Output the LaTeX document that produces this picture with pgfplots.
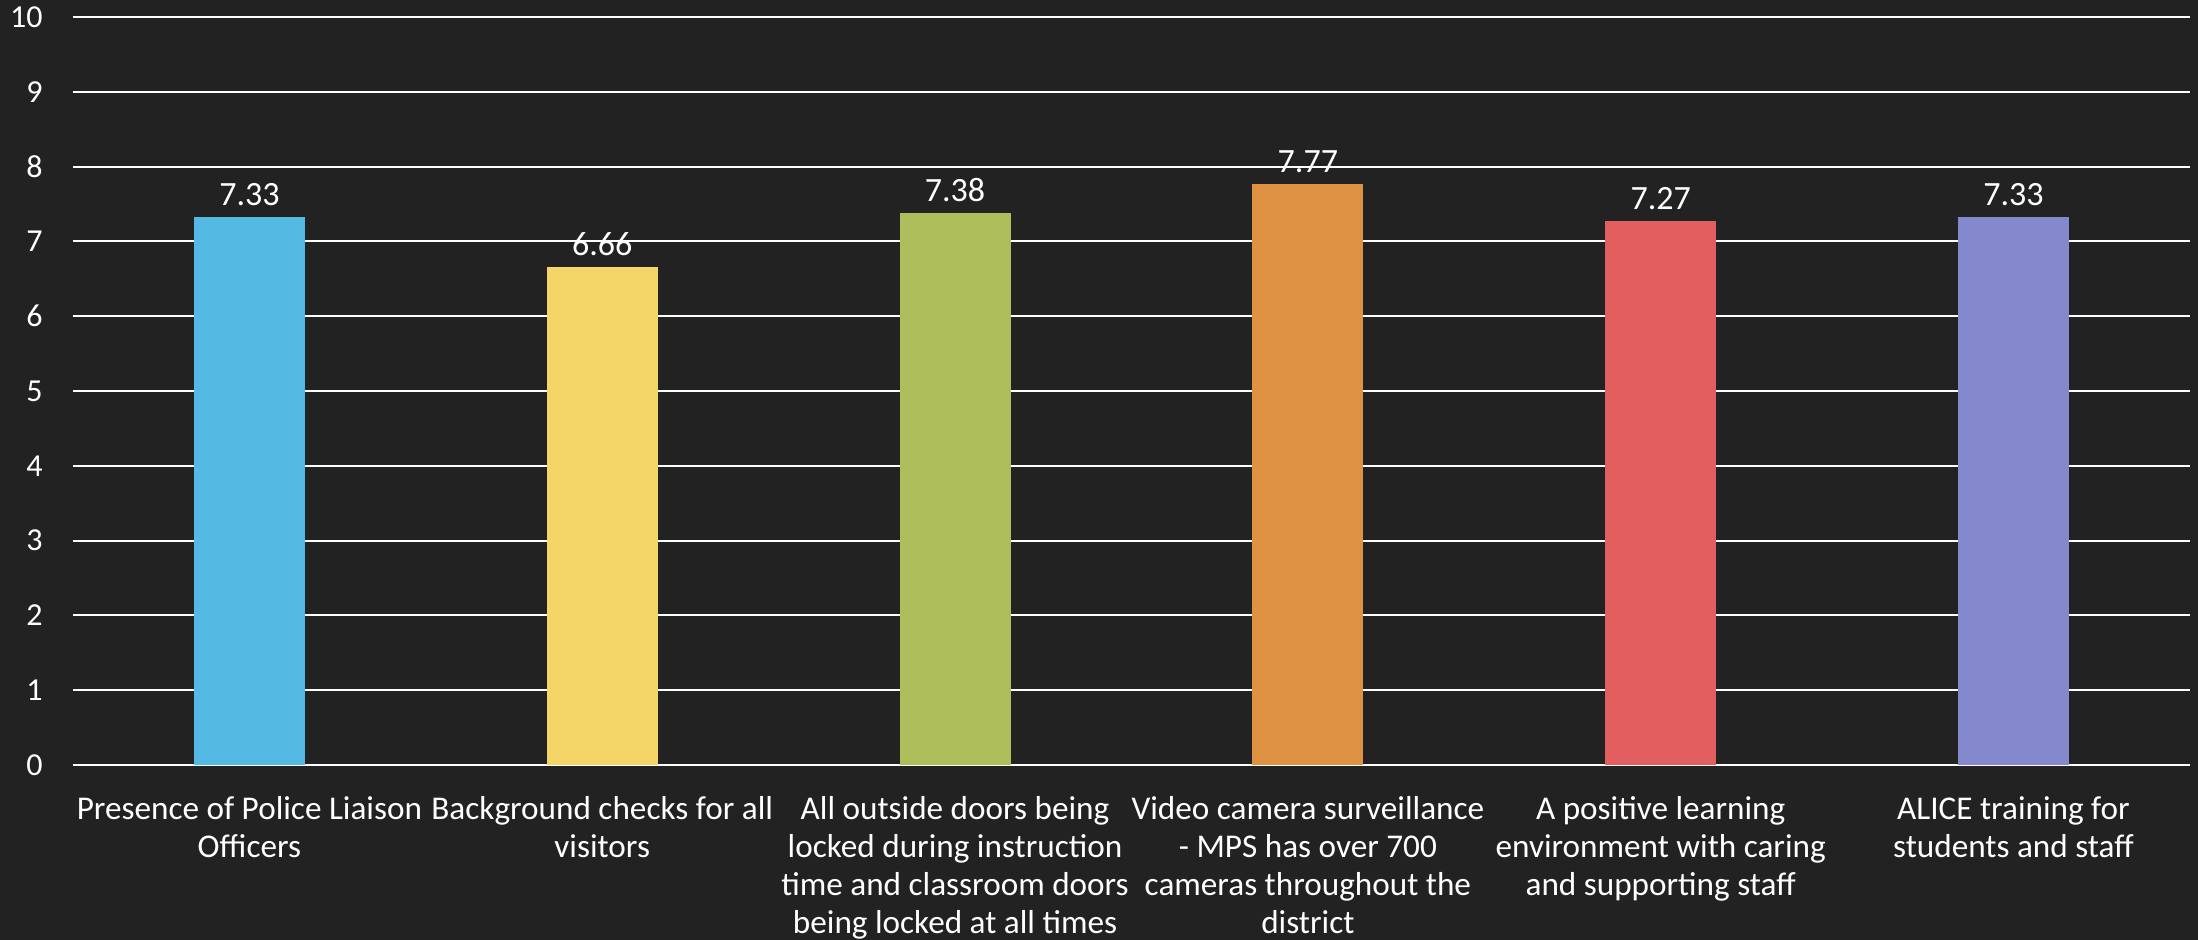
\documentclass[border=0pt]{standalone}
\usepackage{fontspec}
\setmainfont{Carlito}
\usepackage{pgfplots}
\pgfplotsset{compat=1.18}
\definecolor{bg}{RGB}{34,34,34}
\definecolor{c1}{RGB}{84,186,228}
\definecolor{c2}{RGB}{244,214,104}
\definecolor{c3}{RGB}{174,190,90}
\definecolor{c4}{RGB}{224,146,67}
\definecolor{c5}{RGB}{227,94,95}
\definecolor{c6}{RGB}{132,137,205}
\begin{document}
\begin{tikzpicture}
\fill[bg] (0,0) rectangle (1099pt,470pt);
\clip (0,0) rectangle (1099pt,470pt);
\begin{axis}[
  at={(36.5pt,87.5pt)}, anchor=south west,
  scale only axis, width=1058.5pt, height=374pt,
  xmin=-0.5, xmax=5.5, ymin=0, ymax=10,
  ybar, bar width=55.5pt, bar shift=0pt,
  axis line style={draw=none},
  major tick length=0pt,
  ytick={0,1,...,10},
  ymajorgrids,
  major grid style={white, line width=1pt},
  xtick={0,...,5},
  xticklabels={
    {Presence of Police Liaison\\Officers},
    {Background checks for all\\visitors},
    {All outside doors being\\locked during instruction\\time and classroom doors\\being locked at all times},
    {Video camera surveillance\\- MPS has over 700\\cameras throughout the\\district},
    {A positive learning\\environment with caring\\and supporting staff},
    {ALICE training for\\students and staff}},
  xticklabel style={align=center, anchor=north, inner sep=0pt, yshift=-15.5pt,
    font=\fontsize{16.6}{19}\selectfont, text=white},
  yticklabel style={anchor=east, inner sep=0pt, xshift=-15pt,
    font=\fontsize{16}{18}\selectfont, text=white},
  /pgf/number format/assume math mode=true,
  nodes near coords,
  nodes near coords style={font=\fontsize{17}{19}\selectfont, text=white, yshift=2pt,
    /pgf/number format/fixed, /pgf/number format/fixed zerofill,
    /pgf/number format/precision=2},
]
\addplot[fill=c1, draw=none] coordinates {(0,7.33)};
\addplot[fill=c2, draw=none] coordinates {(1,6.66)};
\addplot[fill=c3, draw=none] coordinates {(2,7.38)};
\addplot[fill=c4, draw=none] coordinates {(3,7.77)};
\addplot[fill=c5, draw=none] coordinates {(4,7.27)};
\addplot[fill=c6, draw=none] coordinates {(5,7.33)};
\end{axis}
\end{tikzpicture}
\end{document}
